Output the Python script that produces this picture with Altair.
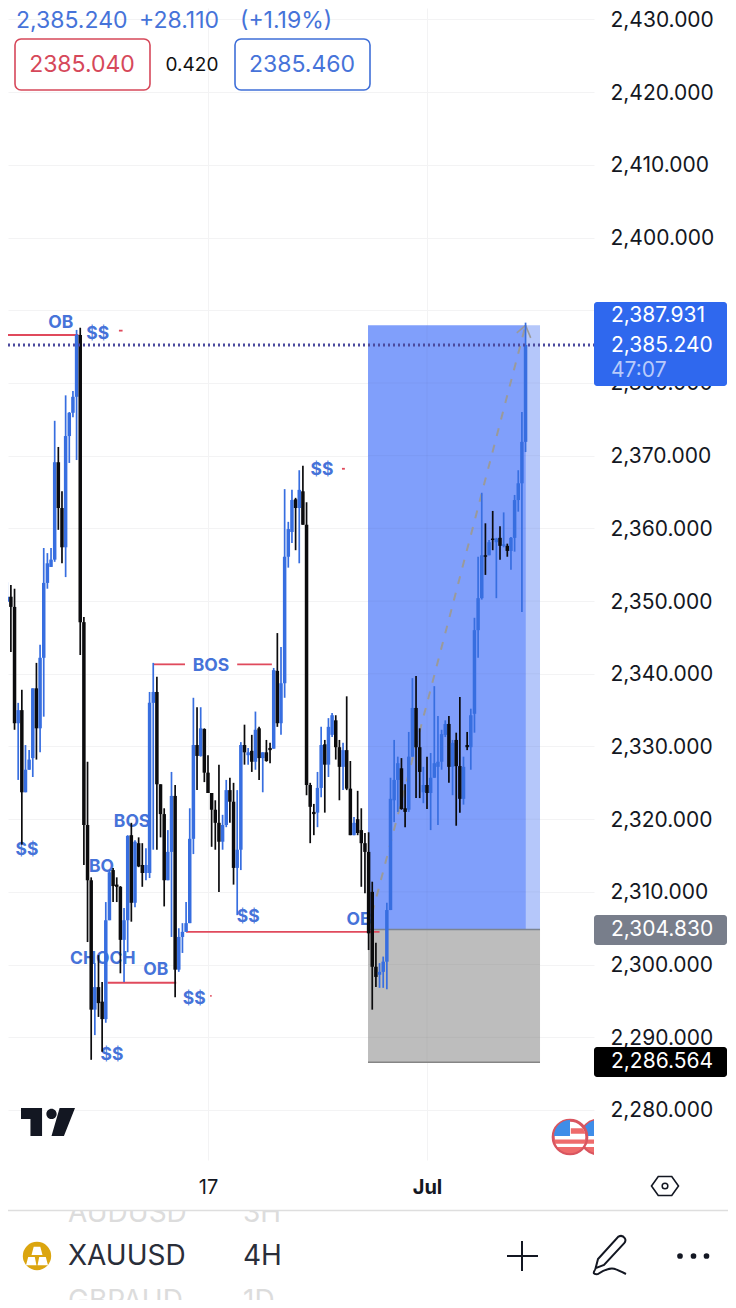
import altair as alt
import pandas as pd

# candle data (bar 0 = 17 Jun, bar 60 = 1 Jul)
FIRST_BAR = -55
HIGH = [2352.6,2352.2,2351.7,2336.0,2337.8,2330.2,2329.5,2338.0,2341.5,2344.0,2357.3,2356.6,2357.3,2374.8,2371.2,2365.1,2378.3,2376.0,2378.9,2387.3,2387.6,2347.8,2327.9,2312.0,2300.2,2301.3,2297.6,2308.6,2313.0,2313.3,2312.0,2310.8,2307.8,2317.8,2319.5,2317.1,2317.5,2316.7,2316.0,2337.5,2341.5,2339.6,2324.8,2321.5,2318.5,2326.5,2324.7,2305.0,2305.7,2308.6,2321.5,2336.7,2335.4,2335.4,2332.5,2328.8,2323.6,2322.6,2327.5,2320.6,2325.4,2325.7,2325.0,2324.0,2330.6,2333.0,2329.8,2331.6,2334.8,2332.7,2329.2,2330.9,2330.5,2340.8,2345.6,2343.7,2365.4,2360.9,2365.3,2364.2,2368.0,2368.6,2363.6,2325.0,2322.1,2326.5,2332.7,2330.9,2333.9,2334.6,2334.3,2330.9,2330.5,2336.9,2328.0,2320.3,2323.9,2321.5,2318.1,2318.2,2311.4,2303.0,2300.2,2301.1,2308.5,2325.7,2330.9,2328.6,2328.4,2324.8,2332.0,2339.4,2339.7,2332.5,2327.2,2328.6,2329.1,2338.3,2334.2,2332.3,2333.6,2334.2,2330.9,2331.9,2336.8,2328.6,2332.0,2335.2,2347.7,2356.1,2364.9,2360.7,2358.4,2362.4,2358.7,2360.3,2362.2,2357.9,2358.8,2364.6,2368.0,2376.0,2388.3]
LOW = [2349.9,2343.0,2332.3,2325.4,2316.5,2323.7,2326.8,2325.8,2328.2,2329.2,2334.1,2351.7,2354.7,2355.4,2359.8,2355.2,2353.3,2369.0,2375.3,2369.4,2342.6,2313.7,2303.1,2286.9,2290.3,2292.8,2288.0,2292.0,2306.1,2308.6,2308.6,2298.8,2297.6,2301.7,2305.9,2307.9,2313.4,2310.7,2311.6,2311.9,2315.8,2315.8,2317.5,2308.0,2311.6,2303.8,2295.5,2299.0,2301.6,2304.5,2305.7,2315.2,2324.0,2328.6,2325.1,2323.6,2316.2,2315.8,2310.0,2315.8,2318.9,2319.5,2311.0,2306.8,2313.0,2327.5,2327.5,2326.5,2326.8,2325.4,2323.7,2327.9,2327.7,2329.7,2332.7,2331.6,2336.7,2354.6,2358.0,2357.0,2355.2,2360.5,2323.3,2316.7,2317.8,2318.9,2323.0,2320.9,2325.8,2331.3,2328.2,2322.6,2324.0,2324.0,2317.8,2317.8,2317.8,2310.7,2309.8,2302.0,2293.8,2296.9,2296.8,2296.8,2296.6,2307.5,2319.6,2321.0,2321.3,2318.9,2321.0,2328.6,2322.9,2322.9,2322.2,2321.4,2318.5,2325.7,2319.2,2326.8,2331.3,2325.0,2323.3,2319.1,2320.9,2322.0,2329.5,2326.8,2331.9,2342.2,2350.2,2353.6,2356.3,2357.0,2350.4,2355.7,2357.4,2356.1,2354.3,2356.8,2362.3,2348.5,2370.5]
OPEN = [2349.9,2350.6,2349.2,2333.2,2335.0,2323.7,2326.8,2328.4,2338.0,2332.5,2342.2,2352.5,2354.7,2355.7,2369.1,2362.8,2357.4,2372.7,2375.9,2378.1,2386.6,2347.1,2319.2,2311.6,2293.8,2296.9,2294.9,2292.5,2306.1,2313.0,2311.0,2310.7,2303.4,2306.1,2317.8,2308.5,2316.7,2313.7,2312.6,2312.6,2336.0,2337.5,2324.8,2320.7,2311.6,2315.5,2323.2,2299.3,2303.8,2304.5,2305.7,2317.3,2330.2,2328.7,2332.4,2326.4,2323.6,2321.3,2319.5,2316.9,2319.2,2324.0,2322.4,2313.3,2315.8,2330.2,2328.8,2329.4,2327.9,2332.5,2328.4,2329.2,2329.8,2329.7,2340.4,2333.2,2338.7,2356.1,2359.5,2364.0,2362.8,2365.1,2360.5,2324.7,2321.0,2320.9,2324.3,2330.3,2327.5,2331.6,2333.6,2329.9,2327.2,2329.5,2324.2,2317.8,2320.0,2318.5,2316.7,2315.5,2310.0,2299.7,2298.6,2299.0,2300.4,2307.5,2322.6,2325.4,2327.0,2321.5,2321.3,2328.6,2335.3,2329.9,2323.7,2324.7,2323.6,2325.7,2327.2,2327.9,2331.6,2333.1,2327.2,2330.9,2327.3,2322.8,2330.2,2329.9,2334.5,2346.0,2350.4,2356.3,2356.3,2358.6,2358.1,2358.7,2357.6,2357.6,2356.9,2358.7,2363.9,2366.2,2371.9]
CLOSE = [2350.6,2349.2,2333.2,2335.0,2323.7,2326.8,2328.2,2338.0,2332.5,2342.2,2352.5,2355.2,2355.7,2369.1,2362.8,2357.4,2372.7,2375.9,2378.1,2386.6,2347.1,2319.2,2311.6,2293.8,2296.9,2294.7,2292.5,2306.1,2312.7,2310.8,2310.7,2303.4,2306.1,2317.7,2308.5,2316.9,2313.5,2312.6,2313.7,2336.0,2337.5,2324.8,2320.7,2311.6,2315.5,2323.2,2299.3,2303.8,2304.5,2305.7,2317.3,2330.2,2328.7,2332.5,2326.4,2323.6,2321.3,2319.5,2316.9,2319.2,2324.0,2322.4,2313.3,2315.8,2330.2,2329.2,2329.2,2327.9,2332.3,2328.4,2329.2,2328.0,2329.5,2340.5,2333.2,2338.7,2356.1,2359.9,2363.9,2362.8,2365.3,2360.5,2324.7,2321.7,2320.7,2324.3,2330.2,2327.5,2332.7,2334.3,2329.9,2327.2,2329.5,2324.2,2317.8,2319.5,2318.1,2316.7,2315.5,2304.3,2299.7,2298.3,2299.0,2300.4,2307.5,2322.8,2325.4,2327.7,2321.4,2321.0,2328.6,2335.3,2329.9,2326.5,2324.7,2323.6,2325.7,2327.7,2327.9,2331.7,2333.1,2327.2,2330.5,2327.3,2322.8,2327.2,2329.9,2334.3,2346.0,2350.4,2356.3,2356.1,2358.1,2358.4,2358.6,2357.6,2357.8,2356.9,2358.7,2363.9,2366.2,2371.9,2385.24]

BLUE, BLACK, RED, LABEL_BLUE = "#376ee0", "#0b0b0d", "#e04a5c", "#4673d9"
INK = "#131722"
FONT = "Inter"

PRICE_TICKS = list(range(2280, 2431, 10))
TIME_TICKS = [0, 60]
X_DOMAIN = [-54.79, 105.75]
Y_DOMAIN = [2273.12, 2431.58]

# position tool
BOX_LEFT, BOX_MID, BOX_RIGHT = 43.84, 87.1, 90.96
TARGET, ENTRY, STOP, LAST = 2387.931, 2304.830, 2286.564, 2385.240

# red structure lines: left bar, right bar, price
STRUCT_X = [-54.79, -15, 8, -27.5, -6, 36.7, -24.4, 0.6]
STRUCT_X2 = [-35.5, -6.3, 17.5, -8.7, 47, 37.5, -23.4, 1.0]
STRUCT_Y = [2386.6, 2341.3, 2341.3, 2297.5, 2304.5, 2368.2, 2387.2, 2295.7]

# small blue structure labels: text, bar, price
TAG_TEXT = ["OB", "$$", "$$", "BOS", "BOS", "BO", "CHOCH", "OB", "$$", "$$", "$$", "$$", "OB"]
TAG_X = [-40.3, -30.2, 31.2, 0.8, -20.8, -29.2, -28.8, -14.3, -49.6, -26.3, -3.8, 11, 41.4]
TAG_Y = [2388.5, 2387.0, 2368.2, 2341.3, 2319.8, 2313.6, 2301.0, 2299.5, 2315.9, 2287.8, 2295.5, 2306.8, 2306.4]


def X(f="x"):
    return alt.X(f + ":Q", title=None, scale=alt.Scale(domain=X_DOMAIN, nice=False, zero=False),
                 axis=alt.Axis(values=TIME_TICKS, labelExpr="datum.value == 0 ? '17' : 'Jul'", grid=True,
                               gridColor="#f3f3f4", domain=False, ticks=False, labelFont=FONT, labelFontSize=20,
                               labelColor=INK, labelPadding=17,
                               labelFontWeight={"condition": {"test": "datum.value == 60", "value": "bold"}, "value": "normal"}))


def Y(f="y"):
    return alt.Y(f + ":Q", title=None, scale=alt.Scale(domain=Y_DOMAIN, nice=False, zero=False),
                 axis=alt.Axis(orient="right", values=PRICE_TICKS, grid=True, gridColor="#f3f3f4",
                               labelExpr="datum.value == 2390 ? '' : format(datum.value, ',.3f')",
                               domain=False, ticks=False, labelFont=FONT, labelFontSize=21, labelColor=INK,
                               labelPadding=16, labelOverlap=False, labelOffset=1))


ONE = alt.Data(values=[{"a": 1}])


def rect_q(x, x2, y, y2, color, **kw):
    d = pd.DataFrame({"x": [x], "x2": [x2], "y": [y], "y2": [y2]})
    return alt.Chart(d).mark_rect(color=color, **kw).encode(x=X(), x2="x2:Q", y=Y(), y2="y2:Q")


def rule_q(xs, x2s, ys, y2s, color, width=1.5, **kw):
    d = pd.DataFrame({"x": xs, "x2": x2s, "y": ys, "y2": y2s})
    return alt.Chart(d).mark_rule(color=color, strokeWidth=width, **kw).encode(x=X(), x2="x2:Q", y=Y(), y2="y2:Q")


def txt(s, x, y, size=21, color=INK, weight="normal", align="left", baseline="middle", **kw):
    off = 1 if baseline == "middle" else 0
    return alt.Chart(ONE).mark_text(text=s, font=FONT, fontSize=size, color=color, fontWeight=weight,
                                    align=align, baseline=baseline, **kw).encode(x=alt.value(x - 8), y=alt.value(y - 8 + off))


def box(x, x2, y, y2, **kw):
    return alt.Chart(ONE).mark_rect(**kw).encode(x=alt.value(x - 8), x2=alt.value(x2 - 8), y=alt.value(y - 8), y2=alt.value(y2 - 8))


def line(x, x2, y, color=INK, width=2):
    return alt.Chart(ONE).mark_rule(color=color, strokeWidth=width).encode(x=alt.value(x - 8), x2=alt.value(x2 - 8), y=alt.value(y - 8))


def icon(path, cx, cy, span, fill=INK, stroke=None, sw=2, clip=False):
    kw = dict(shape=path, size=span * span, clip=clip, opacity=1)
    if stroke:
        kw.update(filled=False, stroke=stroke, strokeWidth=sw)
    else:
        kw.update(filled=True, fill=fill, strokeWidth=0)
    return alt.Chart(ONE).mark_point(**kw).encode(x=alt.value(cx - 8), y=alt.value(cy - 8))


def dot(cx, cy, r, fill=INK, stroke=None, sw=2, clip=False):
    kw = dict(size=3.1416 * r * r, clip=clip, opacity=1)
    if stroke:
        kw.update(fill=fill, stroke=stroke, strokeWidth=sw)
    else:
        kw.update(fill=fill, strokeWidth=0)
    return alt.Chart(ONE).mark_circle(**kw).encode(x=alt.value(cx - 8), y=alt.value(cy - 8))


n = len(HIGH)
bars = pd.DataFrame({"x": [FIRST_BAR + i for i in range(n)], "hi": HIGH, "lo": LOW, "o": OPEN, "c": CLOSE})
bars["dir"] = ["up" if c >= o else "down" for o, c in zip(OPEN, CLOSE)]
col = alt.Color("dir:N", scale=alt.Scale(domain=["up", "down"], range=[BLUE, BLACK]), legend=None)

layers = []
# position tool
layers.append(rect_q(BOX_LEFT, BOX_MID, ENTRY, TARGET, "#809ffb"))
layers.append(rect_q(BOX_MID, BOX_RIGHT, ENTRY, TARGET, "#b5c7fa"))
layers.append(rect_q(BOX_LEFT, BOX_RIGHT, STOP, ENTRY, "#bdbdbd"))
grid_in = [p for p in PRICE_TICKS if 2290 <= p <= 2380]
layers.append(rule_q([BOX_LEFT] * len(grid_in), [BOX_RIGHT] * len(grid_in), grid_in, grid_in, "#000000", 1, opacity=0.035))
layers.append(rule_q([60], [60], [STOP], [TARGET], "#000000", 1, opacity=0.035))
layers.append(rule_q([BOX_LEFT], [BOX_RIGHT], [ENTRY], [ENTRY], "#7d8590", 1.5))
layers.append(rule_q([BOX_LEFT], [BOX_RIGHT], [STOP], [STOP], "#858585", 1.5))
# dashed trade line and arrowhead
layers.append(rule_q([BOX_LEFT], [87], [ENTRY], [TARGET], "#9a9a9a", 2, strokeDash=[8, 9]))
layers.append(rule_q([84.6, 87], [87, 88.4], [2386.9, TARGET], [TARGET, 2386.2], "#9a9a9a", 1.6))
# structure
layers.append(rule_q(STRUCT_X, STRUCT_X2, STRUCT_Y, STRUCT_Y, RED, 1.8, clip=True))
# labels (behind candles)
labels = pd.DataFrame({"x": TAG_X, "y": TAG_Y, "t": TAG_TEXT})
layers.append(alt.Chart(labels).mark_text(font=FONT, fontSize=17.5, fontWeight="bold", color=LABEL_BLUE, dy=1.5).encode(x=X(), y=Y(), text="t:N"))
# candles
layers.append(alt.Chart(bars).mark_rule(strokeWidth=1.7, clip=True).encode(x=X(), y=Y("hi"), y2="lo:Q", color=col))
layers.append(alt.Chart(bars).mark_rule(strokeWidth=3.5, clip=True).encode(x=X(), y=Y("o"), y2="c:Q", color=col))
# last price dotted line
layers.append(alt.Chart(pd.DataFrame({"y": [LAST]})).mark_rule(color="#4b4a9e", strokeWidth=3, strokeDash=[2, 3]).encode(
    x=alt.value(0), x2=alt.value(586), y=Y()))

# TradingView logo
layers.append(icon("M-1 -0.52L-0.22 -0.52L-0.22 0.52L-0.65 0.52L-0.65 -0.11L-1 -0.11Z"
                   "M-0.06 -0.3A0.19 0.19 0 1 0 0.32 -0.3A0.19 0.19 0 1 0 -0.06 -0.3Z"
                   "M0.43 -0.52L1 -0.52L0.59 0.52L0.13 0.52Z", 48, 1122, 54, fill=INK))
# flag markers, clipped by the pane
QUARTER = "M0 0L0 -1A1 1 0 0 0 -1 0Z"
LOWER = "M-0.99 0.15L0.99 0.15A1 1 0 0 1 -0.99 0.15Z"
STRIPE = "M0.05 -0.55L0.8 -0.55L0.97 -0.2L0.05 -0.2Z"
WHITE_BAND = "M-0.9 0.42L0.9 0.42L0.78 0.62L-0.78 0.62Z"
for cx in (598, 570):
    layers.append(dot(cx, 1137, 19, fill="white", stroke="#d9555f", sw=3, clip=True))
    layers.append(icon(QUARTER, cx, 1136, 32, fill="#3f8de8", clip=True))
    layers.append(icon(LOWER, cx, 1137, 32, fill="#ee6b6b", clip=True))
    layers.append(icon(STRIPE, cx, 1137, 32, fill="#ee6b6b", clip=True))
    layers.append(icon(WHITE_BAND, cx, 1137, 32, fill="white", clip=True))

# price tags on the axis
layers.append(box(594, 727, 302, 386, fill="#2f68ee", cornerRadius=3))
layers.append(box(594, 727, 915, 945, fill="#787e8b", cornerRadius=3))
layers.append(box(594, 727, 1047, 1077, fill="#000000", cornerRadius=3))
layers.append(txt("2,387.931", 611, 315, color="white"))
layers.append(txt("2,385.240", 611, 345, color="white"))
layers.append(txt("47:07", 611, 370, color="#b9cbfb"))
layers.append(txt("2,304.830", 611, 929, color="white"))
layers.append(txt("2,286.564", 611, 1061, color="white"))

# header
layers.append(txt("2,385.240", 16, 20, size=23, color=LABEL_BLUE))
layers.append(txt("+28.110", 139, 20, size=23, color=LABEL_BLUE))
layers.append(txt("(+1.19%)", 240, 20, size=23, color=LABEL_BLUE))
layers.append(box(15, 150, 39, 90, fill="white", stroke="#d6485a", strokeWidth=1.6, cornerRadius=6))
layers.append(box(235, 370, 39, 90, fill="white", stroke="#3f6fd8", strokeWidth=1.6, cornerRadius=6))
layers.append(txt("2385.040", 82, 64, size=23, color="#d6485a", align="center"))
layers.append(txt("0.420", 192, 64, size=19, color="#111111", align="center"))
layers.append(txt("2385.460", 302, 64, size=23, color=LABEL_BLUE, align="center"))

# settings hexagon
layers.append(icon("M-1 0L-0.5 -0.7L0.5 -0.7L1 0L0.5 0.7L-0.5 0.7Z", 665, 1186, 27, stroke=INK, sw=1.6))
layers.append(dot(665, 1186, 3.2, fill="white", stroke=INK, sw=1.5))

# bottom bar
for s, x in (("AUDUSD", 68), ("3H", 243)):
    layers.append(txt(s, x, 1222, size=28, color="#dcdcdc", baseline="alphabetic"))
for s, x in (("GBPAUD", 68), ("1D", 243)):
    layers.append(txt(s, x, 1310, size=28, color="#dcdcdc", baseline="alphabetic"))
layers.append(box(8, 736, 1198, 1211, fill="white"))
layers.append(line(8, 736, 1210.5, color="#dedede", width=1.5))
layers.append(dot(37, 1256, 16, fill="#dba50f"))
layers.append(icon("M-0.3 -0.85L0.3 -0.85L0.5 -0.1L-0.5 -0.1Z M-0.8 0.1L-0.2 0.1L-0.05 0.85L-1 0.85Z M0.2 0.1L0.8 0.1L1 0.85L0.05 0.85Z",
                   37, 1256, 22, fill="white"))
layers.append(txt("XAUUSD", 68, 1256, size=28, color="#2a2e39"))
layers.append(txt("4H", 243, 1256, size=28, color="#2a2e39"))
layers.append(line(507, 538, 1256, color=INK, width=2))
layers.append(alt.Chart(ONE).mark_rule(color=INK, strokeWidth=2).encode(x=alt.value(522 - 8), y=alt.value(1241 - 8), y2=alt.value(1271 - 8)))
layers.append(icon("M0.42 -0.92Q0.62 -1.02 0.74 -0.84Q0.82 -0.72 0.7 -0.58L-0.3 0.5L-0.72 0.66L-0.6 0.2Z"
                   "M-0.72 0.7Q-0.95 1 -0.6 0.95Q0 0.55 0.3 0.72Q0.6 0.85 0.8 0.95", 610, 1255, 40, stroke=INK, sw=2))
for cx in (680, 693.5, 706.5):
    layers.append(dot(cx, 1256, 3.2, fill=INK))

chart = alt.layer(*layers).properties(
    width=586, height=1152, background="white",
    padding={"left": 0, "top": 0, "right": 134, "bottom": 140},
    autosize=alt.AutoSizeParams(type="none"),
).configure_view(stroke=None)
chart.save("out.html", embed_options={"renderer": "svg", "actions": False})
